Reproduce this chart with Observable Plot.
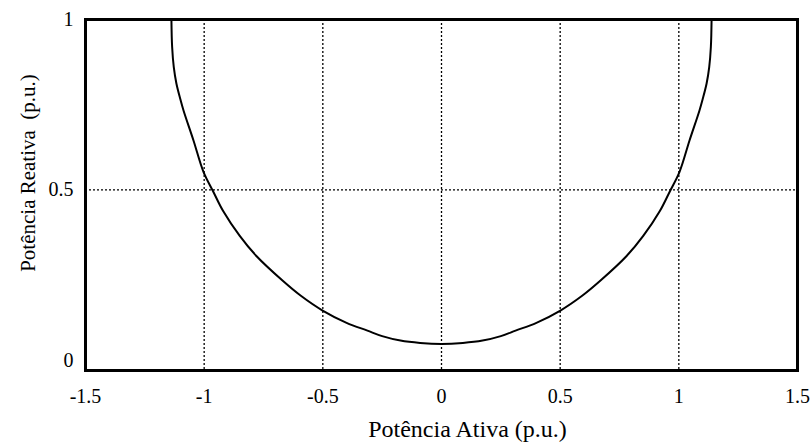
<!DOCTYPE html>
<html>
<head>
<meta charset="utf-8">
<script src="https://cdn.jsdelivr.net/npm/d3@7"></script>
<script src="https://cdn.jsdelivr.net/npm/@observablehq/plot@0.6"></script>
<style>
  html, body { margin: 0; padding: 0; background: white; }
</style>
</head>
<body>
<div id="chart"></div>
<script>
const xTicks = [-1.5, -1, -0.5, 0, 0.5, 1, 1.5];
const yTicks = [0, 0.5, 1];
const gridX = [-1, -0.5, 0, 0.5, 1];
const gridY = [0.5];
const xLabel = "Potência Ativa (p.u.)";
const yLabel = "Potência Reativa\u00A0 (p.u.)";

// curve
const curveX = [-1.138, -1.135, -1.128, -1.117, -1.1, -1.087, -1.045, -1.003, -0.961, -0.92, -0.85, -0.78, -0.67, -0.594, -0.501, -0.40, -0.312, -0.25, -0.173, -0.09, 0,
                0.09, 0.173, 0.25, 0.312, 0.40, 0.501, 0.594, 0.67, 0.78, 0.85, 0.92, 0.961, 1.003, 1.045, 1.087, 1.1, 1.117, 1.128, 1.135, 1.138];
const curveY = [1.0, 0.92, 0.86, 0.812, 0.765, 0.733, 0.645, 0.553, 0.494, 0.438, 0.365, 0.306, 0.234, 0.19, 0.146, 0.11, 0.087, 0.071, 0.058, 0.051, 0.048,
                0.051, 0.058, 0.071, 0.087, 0.11, 0.146, 0.19, 0.234, 0.306, 0.365, 0.438, 0.494, 0.553, 0.645, 0.733, 0.765, 0.812, 0.86, 0.92, 1.0];
const points = curveX.map((x, i) => ({x, y: curveY[i]}));

const chart = Plot.plot({
  width: 812,
  height: 443,
  marginLeft: 85,
  marginRight: 15,
  marginTop: 19,
  marginBottom: 73,
  x: {domain: [-1.5, 1.5]},
  y: {domain: [-0.03, 1]},
  style: {fontFamily: "Liberation Serif", background: "white", color: "black"},
  marks: [
    Plot.ruleX(gridX, {stroke: "black", strokeWidth: 1.3, strokeDasharray: "2,2"}),
    Plot.ruleY(gridY, {stroke: "black", strokeWidth: 1.3, strokeDasharray: "2,2"}),
    Plot.line(points, {x: "x", y: "y", curve: "catmull-rom", stroke: "black", strokeWidth: 2}),
    Plot.frame({stroke: "black", strokeWidth: 3}),
    Plot.axisX({ticks: xTicks, tickSize: 0, tickPadding: 18, tickFormat: d => String(d), fontSize: 20, label: null}),
    Plot.axisY({ticks: yTicks, tickSize: 0, tickPadding: 12, tickFormat: d => String(d), fontSize: 20, label: null}),
    Plot.text([xLabel], {text: d => d, frameAnchor: "bottom", dy: 66, dx: 26, lineAnchor: "bottom", textAnchor: "middle", fontSize: 24}),
    Plot.text([yLabel], {text: d => d, frameAnchor: "left", rotate: -90, dx: -51, dy: -22, lineAnchor: "bottom", textAnchor: "middle", fontSize: 21})
  ]
});
document.getElementById("chart").appendChild(chart);
</script>
</body>
</html>
